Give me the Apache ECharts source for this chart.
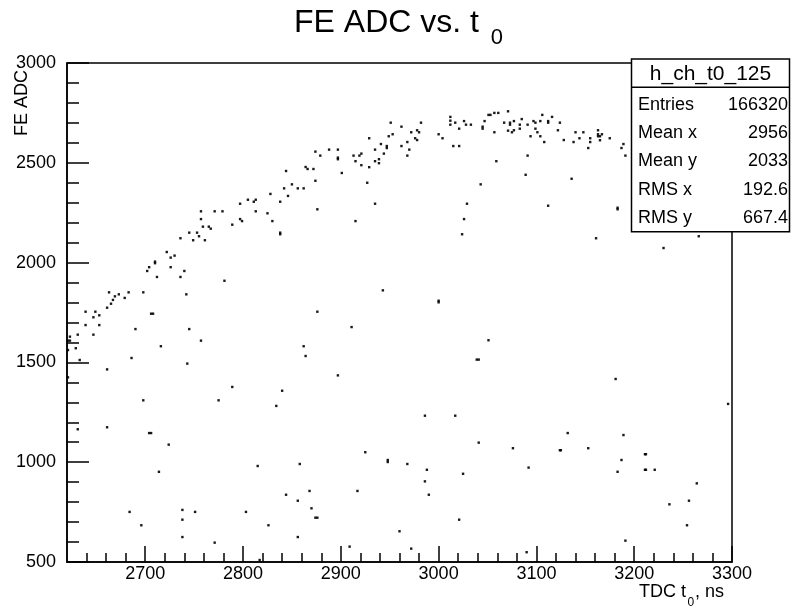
<!DOCTYPE html>
<html>
<head>
<meta charset="utf-8">
<script src="https://cdn.jsdelivr.net/npm/echarts@6/dist/echarts.min.js"></script>
<style>html,body{margin:0;padding:0;background:#fff}#c{width:792px;height:610px}</style>
</head>
<body>
<div id="c"></div>
<script>
// TDC t0 (ns) and FE ADC values of the visible scatter points
var tdcT0 = [2663,2661,2665,2667,2669,2673,2679,2683,2698,2702,2704,2710,2710,2712,2722,2726,2730,2726,2736,2740,
2742,2736,2745,2749,2753,2755,2757,2757,2759,2761,2765,2767,2771,2779,2781,2789,2797,2797,2799,2805,
2811,2813,2813,2825,2828,2830,2838,2838,2838,2842,2844,2846,2850,2856,2862,2864,2866,2872,2874,2874,
2876,2879,2888,2897,2897,2897,2901,2913,2915,2919,2921,2921,2929,2929,2927,2935,2935,2935,2939,2939,
2941,2944,2947,2947,2949,2951,2953,2962,2962,2968,2968,2970,2972,2976,2978,2978,2980,2982,2915,3000,
3004,3012,3012,3012,3015,3017,3021,3021,3026,3028,3033,3029,3026,3024,3043,3045,3045,3047,3051,3053,
3057,3061,3057,3059,3067,3071,3071,3073,3073,3075,3077,3077,3083,3083,3085,3089,3091,3091,3094,3097,
3099,3099,3101,3104,3104,3106,3108,3112,3112,3112,3116,3122,3124,3128,3136,3138,3140,3144,3148,3153,
3155,3155,3161,3163,3163,3163,3165,3165,3167,3175,3183,3183,3187,3189,3191,3230,3266,3181,3296,3132,
3124,3125,3153,3189,3187,3183,3211,3212,3211,3212,3221,3264,3256,3236,3254,3191,2943,3000,3000,2876,
2911,2862,2864,2897,3051,3039,3041,2986,3017,3041,3076,3092,2925,2948,2948,2968,2988,2986,2990,3025,
2858,2868,2917,2856,2870,2874,2876,3021,2960,2856,2909,2972,3090,2639,2649,2653,2647,2639,2653,2631,
2623,2647,2621,2623,2629,2621,2633,2621,2661,2690,2706,2708,2716,2686,2745,2757,2743,2698,2789,2775,
2840,2834,2631,2661,2704,2706,2724,2714,2815,2844,2684,2738,2751,2803,2738,2696,2826,2738,2771,2817];
var feAdc = [1851,1774,1794,1813,1831,1841,1823,1851,1851,1958,1977,2005,1997,1928,2053,2025,2035,1977,1928,1958,
1841,2122,2150,2112,2150,2132,2257,2218,2180,2112,2180,2170,2257,2257,1909,2190,2295,2218,2208,2315,
2305,2315,2257,2247,2344,2208,2305,2150,2142,2372,2459,2334,2392,2372,2372,2479,2469,2469,2556,2410,
2267,2536,2566,2566,2526,2518,2449,2536,2508,2536,2546,2488,2478,2623,2400,2566,2508,2295,2518,2498,
2594,2546,2584,2574,2633,2701,2643,2681,2584,2604,2536,2566,2653,2623,2614,2663,2653,2701,2208,2643,
2623,2730,2711,2691,2584,2701,2584,2671,2709,2691,2691,2295,2218,2142,2392,2681,2671,2709,2740,2740,
2750,2750,2653,2508,2701,2758,2661,2701,2691,2653,2709,2663,2691,2671,2719,2440,2691,2536,2633,2709,
2701,2671,2653,2709,2633,2740,2604,2709,2701,2285,2730,2663,2701,2614,2420,2604,2653,2623,2653,2574,
2623,2604,2122,2663,2643,2633,2633,2613,2643,2623,2275,2267,2574,2594,2536,2073,2132,1417,1292,1146,
1060,1060,1070,1136,1011,952,1040,1040,962,962,962,894,807,789,684,607,1861,1809,1801,1754,
1677,1581,1532,1435,1611,1514,1514,1233,1233,1098,1070,973,1050,1011,1001,991,962,904,837,942,
991,856,856,807,769,722,722,712,654,625,577,567,549,1754,1754,1736,1726,1687,1687,1639,
1629,1639,1609,1609,1571,1562,1512,1425,1465,1667,1744,1744,1581,1522,1667,1609,1494,1310,1377,1310,
1358,1282,1165,1175,1146,1146,1088,952,981,837,751,761,751,751,712,684,684,625,597,510];

var xMajorTicks = [2700, 2800, 2900, 3000, 3100, 3200, 3300];
var xMinorTicks = [2640,2660,2680,2700,2720,2740,2760,2780,2800,2820,2840,2860,2880,2900,2920,2940,2960,2980,3000,
                   3020,3040,3060,3080,3100,3120,3140,3160,3180,3200,3220,3240,3260,3280];
var yMajorTicks = [500, 1000, 1500, 2000, 2500, 3000];

var statLabels = ['Entries', 'Mean x', 'Mean y', 'RMS x', 'RMS y'];
var statValues = ['166320', '2956', '2033', '192.6', '667.4'];
var histName = 'h_ch_t0_125';

var FONT = 'Liberation Sans, Arial, Helvetica, sans-serif';
var points = tdcT0.map(function (x, i) { return [x, feAdc[i]]; });
var plain = function (v) { return String(v); };

var chart = echarts.init(document.getElementById('c'), null, {renderer: 'canvas'});

var statChildren = [
  {type: 'rect', shape: {x: 631.5, y: 59, width: 158, height: 172.7},
   style: {fill: '#fff', stroke: '#000', lineWidth: 1.5}},
  {type: 'line', shape: {x1: 631.5, y1: 87.3, x2: 789.5, y2: 87.3},
   style: {stroke: '#000', lineWidth: 1.5}},
  {type: 'text', style: {text: histName, x: 710.5, y: 74.5, textAlign: 'center', textVerticalAlign: 'middle',
   fontSize: 21, fontFamily: FONT, fill: '#000'}}
];
var baseY = [111.5, 139.7, 167.9, 196.1, 224.3];
statLabels.forEach(function (lab, i) {
  statChildren.push({type: 'text', style: {text: lab, x: 638, y: baseY[i] - 6.5, textAlign: 'left',
    textVerticalAlign: 'middle', fontSize: 18, fontFamily: FONT, fill: '#000'}});
  statChildren.push({type: 'text', style: {text: statValues[i], x: 788, y: baseY[i] - 6.5, textAlign: 'right',
    textVerticalAlign: 'middle', fontSize: 18, fontFamily: FONT, fill: '#000'}});
});

var option = {
  animation: false,
  backgroundColor: '#fff',
  grid: {left: 67, right: 60, top: 63, bottom: 48, show: true, borderColor: '#000', borderWidth: 1.5,
         backgroundColor: 'transparent'},
  xAxis: [
    {type: 'value', min: 2620, max: 3300, position: 'bottom',
     axisLine: {show: true, onZero: false, lineStyle: {color: '#000', width: 1.5}},
     axisTick: {show: true, inside: true, length: 9, customValues: xMinorTicks, lineStyle: {color: '#000', width: 1.5}},
     axisLabel: {show: false}, splitLine: {show: false}},
    {type: 'value', min: 2620, max: 3300, position: 'bottom',
     axisLine: {show: false, onZero: false},
     axisTick: {show: true, inside: true, length: 16, customValues: xMajorTicks, lineStyle: {color: '#000', width: 1.5}},
     axisLabel: {show: true, customValues: xMajorTicks, formatter: plain, margin: 3, fontSize: 18, fontFamily: FONT, color: '#000'},
     splitLine: {show: false}}
  ],
  yAxis: [
    {type: 'value', min: 500, max: 3000, interval: 100, position: 'left',
     axisLine: {show: true, onZero: false, lineStyle: {color: '#000', width: 1.5}},
     axisTick: {show: true, inside: true, length: 12, lineStyle: {color: '#000', width: 1.5}},
     axisLabel: {show: false}, splitLine: {show: false}},
    {type: 'value', min: 500, max: 3000, position: 'left',
     axisLine: {show: false, onZero: false},
     axisTick: {show: true, inside: true, length: 22, customValues: yMajorTicks, lineStyle: {color: '#000', width: 1.5}},
     axisLabel: {show: true, customValues: yMajorTicks, formatter: plain, margin: 11, fontSize: 18, fontFamily: FONT, color: '#000'},
     splitLine: {show: false}}
  ],
  series: [{
    type: 'scatter', xAxisIndex: 0, yAxisIndex: 0, data: points,
    symbol: 'rect', symbolSize: 2.4, silent: true,
    itemStyle: {color: '#000', opacity: 0.9}
  }],
  graphic: [
    {type: 'text', z: 100, style: {text: 'FE ADC vs. t', x: 294, y: 23, textAlign: 'left', textVerticalAlign: 'middle',
      fontSize: 32, fontFamily: FONT, fill: '#000'}},
    {type: 'text', z: 100, style: {text: '0', x: 490.7, y: 38, textAlign: 'left', textVerticalAlign: 'middle',
      fontSize: 22, fontFamily: FONT, fill: '#000'}},
    {type: 'text', z: 100, x: 21.7, y: 70, rotation: Math.PI / 2,
      style: {text: 'FE ADC', x: 0, y: 0, textAlign: 'right', textVerticalAlign: 'middle',
      fontSize: 18, fontFamily: FONT, fill: '#000'}},
    {type: 'text', z: 100, style: {text: 'TDC t', x: 686, y: 592, textAlign: 'right', textVerticalAlign: 'middle',
      fontSize: 18, fontFamily: FONT, fill: '#000'}},
    {type: 'text', z: 100, style: {text: '0', x: 687.5, y: 603, textAlign: 'left', textVerticalAlign: 'middle',
      fontSize: 12, fontFamily: FONT, fill: '#000'}},
    {type: 'text', z: 100, style: {text: ', ns', x: 695, y: 592, textAlign: 'left', textVerticalAlign: 'middle',
      fontSize: 18, fontFamily: FONT, fill: '#000'}},
    {type: 'group', z: 100, children: statChildren}
  ]
};
chart.setOption(option);
</script>
</body>
</html>
